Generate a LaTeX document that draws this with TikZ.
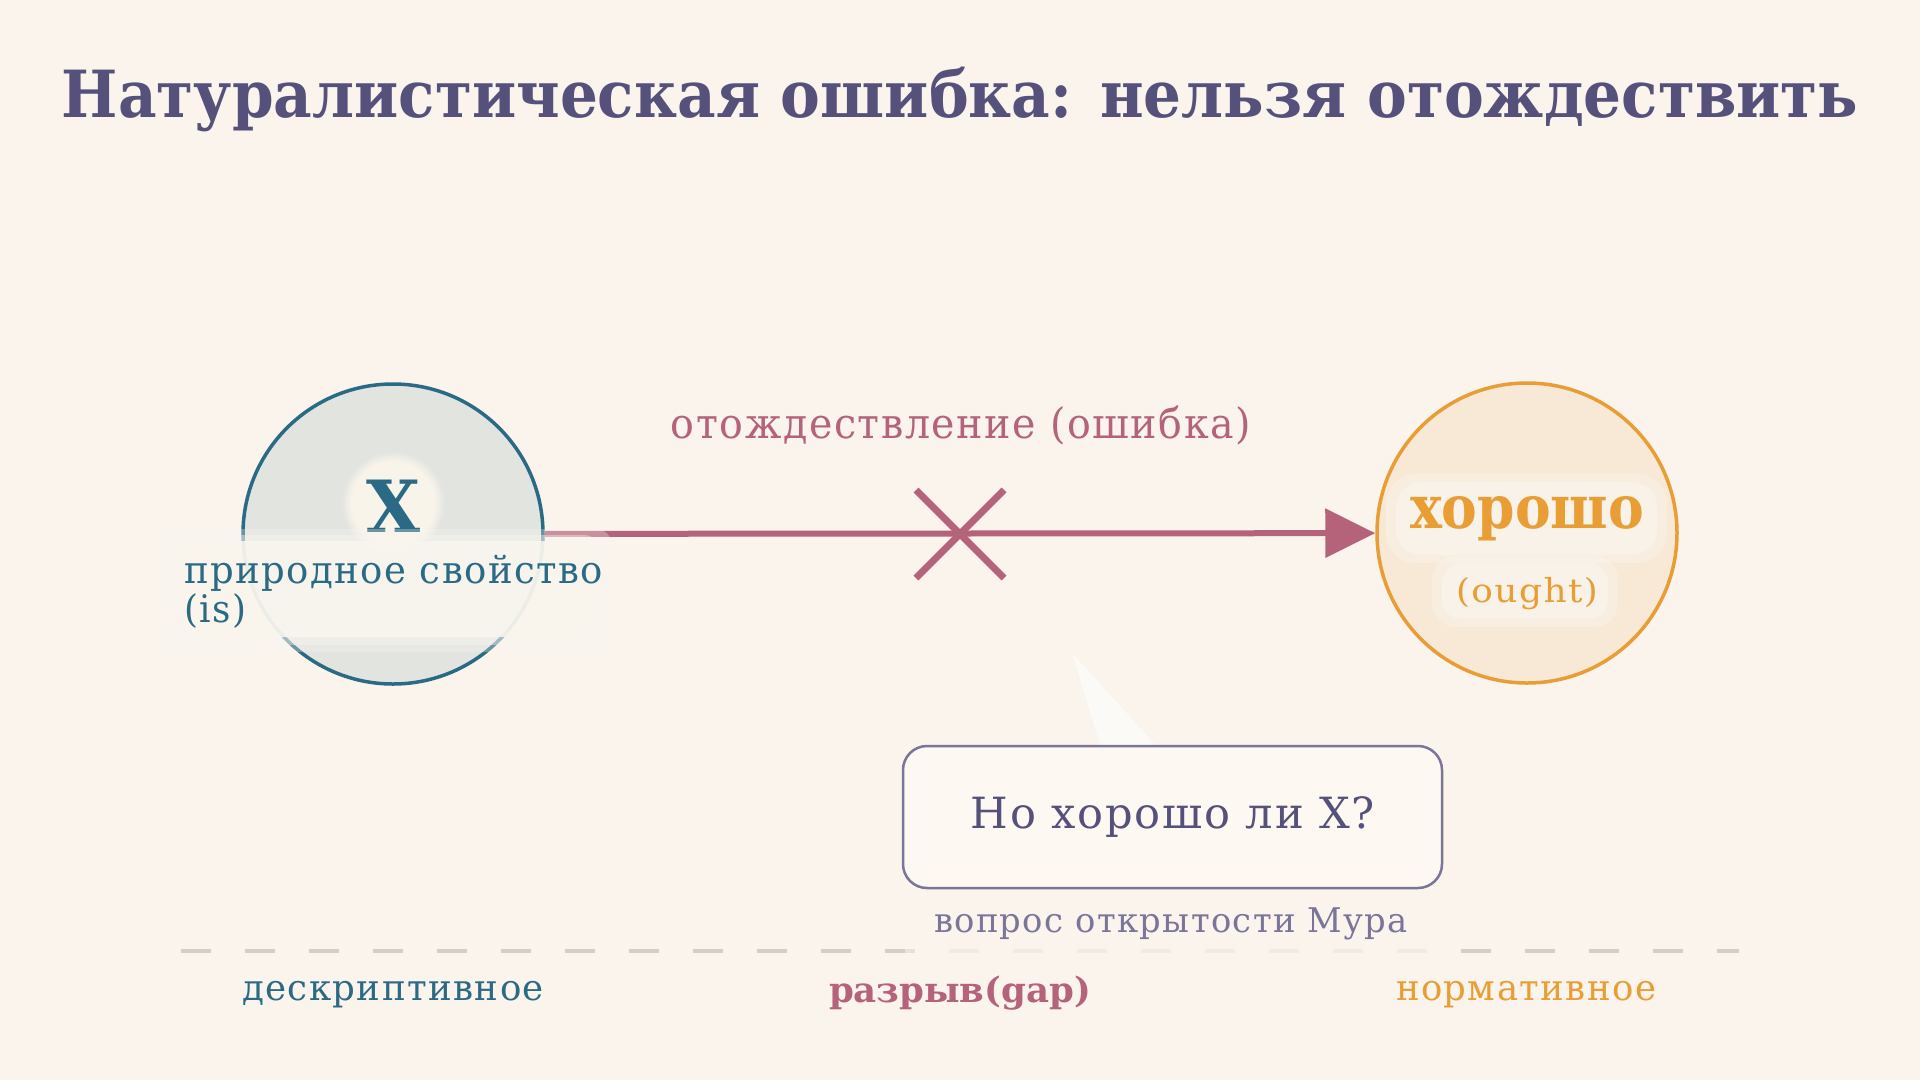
\documentclass[tikz,border=0pt]{standalone}
\usepackage{graphicx}
\usepackage{fontspec}
\setmainfont{DejaVu Serif}
\newfontfamily\regf{DejaVu Serif}[LetterSpace=4]
\usetikzlibrary{arrows.meta,fadings}
\definecolor{bg}{HTML}{FAF4ED}
\definecolor{titlec}{HTML}{55517B}
\definecolor{tealc}{HTML}{2B6A84}
\definecolor{mauvec}{HTML}{B4637A}
\definecolor{orangec}{HTML}{E99D35}
\definecolor{leftfill}{HTML}{E2E4E0}
\definecolor{rightfill}{HTML}{F8E9D6}
\definecolor{boxfill}{HTML}{FDF8F2}
\definecolor{boxline}{HTML}{7A7599}
\definecolor{dashc}{HTML}{D2CECA}
\definecolor{bandc}{HTML}{F9F6EE}
\definecolor{glowc}{HTML}{F9F4EA}
\newcommand\myfs[1]{\fontsize{#1}{#1}\selectfont}
\newcommand\fitw[2]{\resizebox{#1pt}{\height}{#2}}
\begin{document}
\begin{tikzpicture}[x=1pt,y=-1pt,
  txt/.style={inner sep=0pt, outer sep=0pt, anchor=base},
  bigcircle/.style={circle, minimum size=300pt, inner sep=0pt, line width=3.5pt},
  relarrow/.style={line width=6pt, mauvec, -{Triangle[length=50pt,width=48pt]}},
  crossline/.style={line width=7pt, mauvec},
  bandlayer/.style={fill=bandc, rounded corners=16pt}]
\useasboundingbox (0,0) rectangle (1920,1080);
\fill[bg] (0,0) rectangle (1920,1080);

% title
\node[txt, text=titlec, font=\myfs{65}\bfseries] (title) at (960,117) {\fitw{1796}{Натуралистическая ошибка: нельзя отождествить}};

% circles
\node[bigcircle, draw=tealc, fill=leftfill] (Xc) at (393,534) {};
\node[bigcircle, draw=orangec, fill=rightfill] (Gc) at (1527,533) {};

% connector
\draw[relarrow] (Xc) -- (Gc);
\coordinate (cross) at (960,534);
\draw[crossline, shift={(cross)}] (-44,-44) -- (44,44) (-44,44) -- (44,-44);
\node[txt, text=mauvec, font=\regf\myfs{42}] (rel) at (961,438) {\fitw{580}{отождествление (ошибка)}};

% left node content
\fill[glowc, path fading=circle with fuzzy edge 20 percent] (393,503) circle (52);
\node[txt, text=tealc, font=\myfs{72}\bfseries] (X) at (393,532) {\fitw{54}{X}};
\fill[bandlayer, opacity=0.3] (160,529) rectangle (612,652);
\fill[bandlayer, opacity=0.4] (170,535) rectangle (600,645);
\fill[bandlayer, opacity=0.85] (180,541) rectangle (588,637);
\node[txt, anchor=base west, text=tealc, font=\regf\myfs{38}] (nat) at (184,583) {\fitw{419}{природное свойство}};
\node[txt, anchor=base west, text=tealc, font=\regf\myfs{38}] (is) at (184,622) {\fitw{62}{(is)}};

% right node content
\fill[glowc, opacity=0.5, rounded corners=30pt] (1386,474) rectangle (1667,563);
\fill[glowc, opacity=0.8, rounded corners=26pt] (1396,482) rectangle (1657,555);
\fill[glowc, opacity=0.5, rounded corners=24pt] (1432,556) rectangle (1618,627);
\fill[glowc, opacity=0.8, rounded corners=20pt] (1442,563) rectangle (1608,619);
\node[txt, text=orangec, font=\myfs{60}\bfseries] (good) at (1527,528) {\fitw{234}{хорошо}};
\node[txt, text=orangec, font=\regf\myfs{33}] (ought) at (1527,602) {\fitw{142}{(ought)}};

% callout
\coordinate (tipq) at (1072,653);
\fill[white, opacity=0.55] (tipq) -- (1101,747) -- (1157,747) -- cycle;
\node[draw=boxline, line width=2.5pt, fill=boxfill, rounded corners=24pt,
      minimum width=539pt, minimum height=142pt, inner sep=0pt] (callout) at (1172.5,817) {};
\node[txt, text=titlec, font=\regf\myfs{43}] (q) at (1173,828) {\fitw{404}{Но хорошо ли X?}};

% dashed separator
\coordinate (dl) at (181,951);
\coordinate (dr) at (1739,951);
\draw[dashc, line width=3.5pt, dash pattern=on 30pt off 34pt] (dl) -- (dr);
\fill[bg, opacity=0.5, rounded corners=10pt] (905,898) rectangle (1440,962);
\fill[bg, opacity=0.5, rounded corners=10pt] (915,903) rectangle (1430,957);
\node[txt, text=boxline, font=\regf\myfs{34}] (moore) at (1171,932) {\fitw{474}{вопрос открытости Мура}};

% bottom labels
\node[txt, text=tealc, font=\regf\myfs{36}] (descr) at (393,1000) {\fitw{302}{дескриптивное}};
\node[txt, text=mauvec, font=\myfs{35}\bfseries] (gap) at (960,1002) {\fitw{262}{разрыв(gap)}};
\node[txt, text=orangec, font=\regf\myfs{36}] (norm) at (1526,1000) {\fitw{260}{нормативное}};
\end{tikzpicture}
\end{document}
